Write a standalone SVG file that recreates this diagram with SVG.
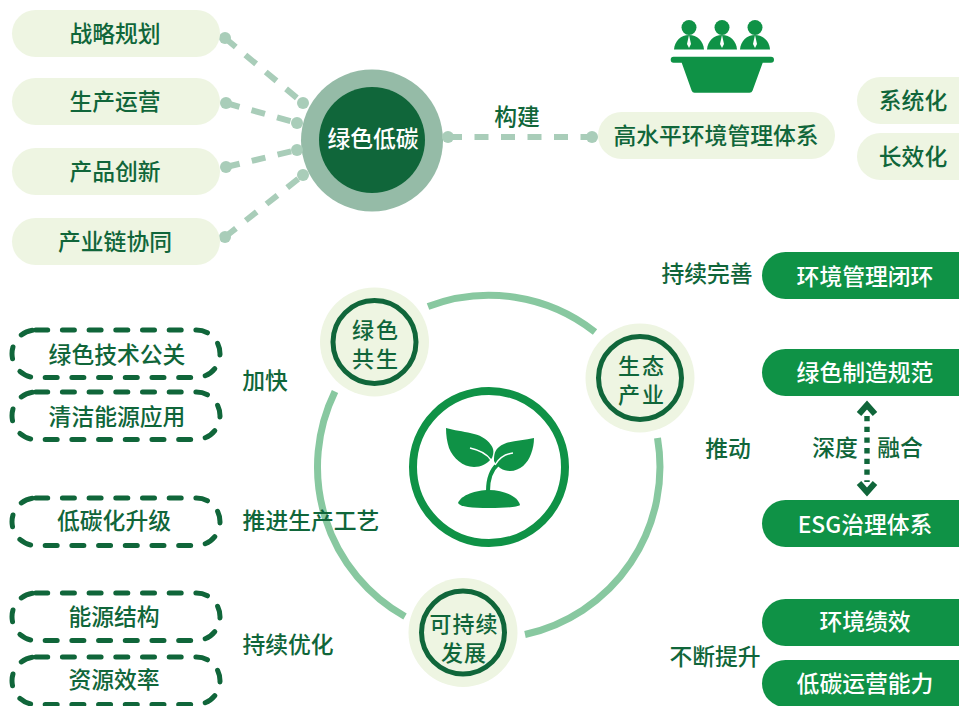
<svg xmlns="http://www.w3.org/2000/svg" width="959" height="706" viewBox="0 0 959 706">
<style>
text{font-family:"Noto Sans CJK SC","Noto Sans",sans-serif;font-weight:500;font-size:22.8px;text-anchor:middle;dominant-baseline:central;fill:#10663a}
.w{fill:#fff}
.nt{font-size:22px;letter-spacing:2px}
.nt3{font-size:22px;letter-spacing:1px}
.lp{fill:#eef5e2}
.gp{fill:#0f9246}
.dp{fill:none;stroke:#10663a;stroke-width:5;stroke-linecap:round;stroke-dasharray:12 14.7}
.dash{stroke:#a9cdb9;stroke-width:6;stroke-dasharray:14 12.5;fill:none}
.dot{fill:#a9cdb9}
.arc{fill:none;stroke:#88c8a0;stroke-width:7}
.no{fill:#eef5e2}
.ni{fill:#eef5e2;stroke:#10663a;stroke-width:5}
.ic{fill:#0f9246}
</style>
<g id="n-lsdt"><circle cx="372" cy="140.5" r="71" fill="#95bba7"/><circle cx="372" cy="140" r="53" fill="#10663a"/><text class="w" x="373" y="137">绿色低碳</text></g>
<g id="connectors">
<path class="dash" d="M225 38L303 103"/><path class="dash" d="M226 103L297 123"/><path class="dash" d="M226 167L297 150"/><path class="dash" d="M225 237L303 175"/><path class="dash" d="M448 137L592 137"/>
<circle class="dot" cx="225" cy="38" r="6"/><circle class="dot" cx="226" cy="103" r="6"/><circle class="dot" cx="226" cy="167" r="6"/><circle class="dot" cx="225" cy="237" r="6"/>
<circle class="dot" cx="303" cy="103" r="6"/><circle class="dot" cx="297" cy="123" r="6"/><circle class="dot" cx="297" cy="150" r="6"/><circle class="dot" cx="303" cy="175" r="6"/>
<circle class="dot" cx="448" cy="137" r="6"/><circle class="dot" cx="592" cy="137" r="6"/>
<path class="arc" d="M428 306.500A171.500 171.500 0 0 1 595 332"/>
<path class="arc" d="M657.500 438A171.500 171.500 0 0 1 525 634.500"/>
<path class="arc" d="M405 616.500A171.500 171.500 0 0 1 335 391.500"/>
<path d="M867 416V482" fill="none" stroke="#10663a" stroke-width="5.400" stroke-dasharray="5.300 5.400"/>
<path d="M859 414L867 405L875 414M859 483L867 492L875 483" fill="none" stroke="#10663a" stroke-width="6"/>
</g>
<g id="n-zllh"><rect class="lp" x="12" y="10" width="208" height="47" rx="23.500"/><text x="115" y="32">战略规划</text></g>
<g id="n-scyy"><rect class="lp" x="12" y="78" width="208" height="47" rx="23.500"/><text x="115" y="100">生产运营</text></g>
<g id="n-cpcx"><rect class="lp" x="12" y="148" width="208" height="47" rx="23.500"/><text x="115" y="170">产品创新</text></g>
<g id="n-cyl"><rect class="lp" x="12" y="218" width="208" height="47" rx="23.500"/><text x="115" y="240">产业链协同</text></g>
<text x="517" y="115">构建</text>
<g id="n-icon-people" class="ic">
<circle cx="689" cy="27.500" r="7.500"/><circle cx="722" cy="27.500" r="7.500"/><circle cx="755" cy="27.500" r="7.500"/>
<path d="M674 49.500C674.500 41 681 35 689 35C697 35 703.500 41 704 49.500Z"/><path d="M707 49.500C707.500 41 714 35 722 35C730 35 736.500 41 737 49.500Z"/><path d="M740 49.500C740.500 41 747 35 755 35C763 35 769.500 41 770 49.500Z"/>
<path d="M689 35L691 44L689 48L687 44Z M722 35L724 44L722 48L720 44Z M755 35L757 44L755 48L753 44Z" fill="#fff"/>
<path d="M673.500 56.700H771Q774 56.700 774 59.700Q774 62.700 771 62.700H762.700L752.500 90.700Q751.700 92.700 749.500 92.700H694.500Q692.500 92.700 691.700 90.700L681.700 62.700H673.500Q670.700 62.700 670.700 59.700Q670.700 56.700 673.500 56.700Z"/>
</g>
<g id="n-gsp"><rect class="lp" x="598" y="112" width="237" height="47" rx="23.500"/><text x="716" y="134">高水平环境管理体系</text></g>
<g id="n-xth"><rect class="lp" x="857" y="77" width="130" height="47" rx="23.500"/><text x="913" y="99">系统化</text></g>
<g id="n-cxh"><rect class="lp" x="857" y="133" width="130" height="47" rx="23.500"/><text x="913" y="155">长效化</text></g>
<g id="n-lsgs"><circle class="no" cx="374.500" cy="342" r="54.500"/><circle class="ni" cx="374.500" cy="342" r="41.500"/><text class="nt" x="376"><tspan x="376" y="328">绿色</tspan><tspan x="376" y="357">共生</tspan></text></g>
<g id="n-stcy"><circle class="no" cx="640" cy="378" r="54.500"/><circle class="ni" cx="640" cy="378" r="41.500"/><text class="nt" x="642"><tspan x="642" y="363.500">生态</tspan><tspan x="642" y="392.500">产业</tspan></text></g>
<g id="n-kcx"><circle class="no" cx="463" cy="632.500" r="54.500"/><circle class="ni" cx="463" cy="632.500" r="41.500"/><text class="nt3" x="464"><tspan x="464" y="621.500">可持续</tspan><tspan x="464" y="650.500">发展</tspan></text></g>
<g id="n-center">
<circle cx="489" cy="467" r="76" fill="none" stroke="#0f9246" stroke-width="8"/>
<path class="ic" d="M446 428C462 433 482 431 491 445C494 449 494 453 492 458C487 464 481 467 474 467C463 467 453 458 449 448C447 442 446 435 446 428Z"/>
<path class="ic" d="M534 438C522 441 507 440 499 447C495 450 494 454 494 461C497 467 503 471 510 471C520 471 528 463 531 454C533 449 534 443 534 438Z"/>
<path class="ic" d="M458 503C461 495 476 490 489 490C503 490 518 496 520 505C518 507 505 508 489 508C472 508 460 507 458 503Z"/>
<path d="M488 491C488 478 491 470 498 464" fill="none" stroke="#0f9246" stroke-width="4"/>
<path d="M470 448C479 450 487 454 491 460M513 453C505 454 499 458 495 465" fill="none" stroke="#fff" stroke-width="1.500"/>
</g>
<g id="n-l1"><rect class="dp" x="12" y="330" width="208" height="47.500" rx="23.700"/><text x="117" y="353">绿色技术公关</text></g>
<g id="n-l2"><rect class="dp" x="12" y="392" width="208" height="47.500" rx="23.700"/><text x="117" y="415">清洁能源应用</text></g>
<g id="n-l3"><rect class="dp" x="12" y="498" width="208" height="47.500" rx="23.700"/><text x="114" y="519">低碳化升级</text></g>
<g id="n-l4"><rect class="dp" x="12" y="593" width="208" height="47.500" rx="23.700"/><text x="114" y="615">能源结构</text></g>
<g id="n-l5"><rect class="dp" x="12" y="657" width="208" height="47.500" rx="23.700"/><text x="114" y="678">资源效率</text></g>
<text x="265" y="379">加快</text>
<text x="311" y="519">推进生产工艺</text>
<text x="288" y="643">持续优化</text>
<text x="707" y="272">持续完善</text>
<text x="728" y="447">推动</text>
<text x="835" y="446">深度</text>
<text x="900" y="446">融合</text>
<text x="715" y="655">不断提升</text>
<g id="n-r1"><rect class="gp" x="762" y="252" width="230" height="47" rx="23.500"/><text class="w" x="865" y="275">环境管理闭环</text></g>
<g id="n-r2"><rect class="gp" x="762" y="349" width="230" height="47" rx="23.500"/><text class="w" x="865" y="371">绿色制造规范</text></g>
<g id="n-r3"><rect class="gp" x="762" y="500" width="230" height="47" rx="23.500"/><text class="w" x="865" y="523">ESG治理体系</text></g>
<g id="n-r4"><rect class="gp" x="762" y="599" width="230" height="47" rx="23.500"/><text class="w" x="865" y="620">环境绩效</text></g>
<g id="n-r5"><rect class="gp" x="762" y="660" width="230" height="47" rx="23.500"/><text class="w" x="865" y="682">低碳运营能力</text></g>
</svg>
